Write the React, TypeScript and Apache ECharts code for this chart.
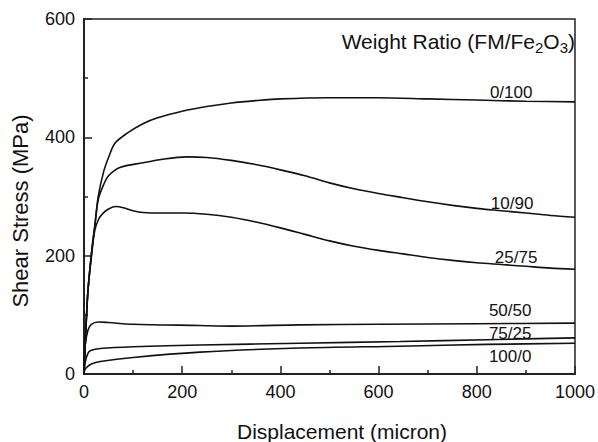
import React, { useEffect, useRef } from "react";
import * as echarts from "echarts";

const xTicks = [0, 200, 400, 600, 800, 1000];
const yTicks = [0, 200, 400, 600];

const seriesNames = ["0/100", "10/90", "25/75", "50/50", "75/25", "100/0"];

const s0_100: [number, number][] = [
  [0, 0], [3, 60], [8, 140], [16, 210], [22, 250], [29, 300], [40, 342], [50, 366], [63, 390],
  [88, 407], [120, 423], [150, 433], [200, 444], [250, 452], [300, 458], [350, 462], [400, 465],
  [500, 467], [600, 467], [700, 465], [800, 463], [900, 461], [1000, 460],
];
const s10_90: [number, number][] = [
  [0, 0], [3, 60], [8, 140], [16, 210], [22, 250], [29, 295], [40, 320], [50, 335], [73, 349],
  [120, 357], [160, 363], [209, 367], [250, 366], [300, 361], [350, 354], [400, 345], [450, 335],
  [500, 323], [550, 313], [600, 305], [650, 298], [700, 291], [750, 285], [800, 280], [850, 276],
  [900, 272], [950, 268], [1000, 265],
];
const s25_75: [number, number][] = [
  [0, 0], [3, 60], [8, 140], [16, 205], [22, 243], [30, 262], [39, 272], [50, 279], [65, 283],
  [80, 281], [100, 276], [120, 273], [160, 272], [200, 272], [250, 270], [300, 265], [350, 257],
  [400, 247], [450, 236], [500, 225], [550, 216], [600, 209], [650, 203], [700, 197], [750, 192],
  [800, 188], [850, 185], [900, 182], [950, 179], [1000, 177],
];
const s50_50: [number, number][] = [
  [0, 0], [2, 46], [8, 74], [15, 84], [29, 88], [50, 87], [100, 84], [236, 82], [300, 81],
  [440, 83], [600, 84], [800, 85], [1000, 86],
];
const s75_25: [number, number][] = [
  [0, 0], [2, 18], [8, 35], [15, 40], [33, 43], [100, 46], [236, 49], [440, 52], [644, 55],
  [820, 58], [1000, 61],
];
const s100_0: [number, number][] = [
  [0, 0], [2, 8], [8, 13], [15, 17], [33, 21], [100, 28], [236, 37], [440, 44], [644, 47],
  [820, 50], [1000, 52],
];

const seriesData = [s0_100, s10_90, s25_75, s50_50, s75_25, s100_0];
const labelX = [870, 872, 880, 868, 868, 868];
const labelY = [475, 289, 197, 108, 69, 29];

const FONT = "'Liberation Sans', Arial, Helvetica, sans-serif";

export default function App() {
  const ref = useRef<HTMLDivElement>(null);
  useEffect(() => {
    if (!ref.current) return;
    const chart = echarts.init(ref.current, null, { renderer: "svg" });
    chart.setOption({
      animation: false,
      backgroundColor: "#fff",
      textStyle: { fontFamily: FONT },
      title: {
        text: "Weight Ratio (FM/Fe{s|2}O{s|3})",
        right: 23,
        top: 28,
        padding: 0,
        textStyle: {
          fontFamily: FONT,
          fontSize: 21,
          fontWeight: "normal",
          color: "#111",
          rich: {
            s: { fontFamily: FONT, fontSize: 15, color: "#111", padding: [12, 0, 0, 0] },
          },
        },
      },
      grid: {
        left: 84,
        top: 19,
        right: 23,
        bottom: 68,
        show: true,
        borderColor: "#222",
        borderWidth: 1.5,
      },
      xAxis: {
        type: "value",
        min: 0,
        max: 1000,
        interval: 200,
        axisLine: { show: true, lineStyle: { color: "#222", width: 2 } },
        axisTick: { show: true, inside: true, length: 8, lineStyle: { color: "#222", width: 1.5 } },
        minorTick: { show: true, splitNumber: 2, length: 4, lineStyle: { color: "#222", width: 1.5 } },
        splitLine: { show: false },
        axisLabel: {
          margin: 9,
          fontSize: 18,
          color: "#111",
          fontFamily: FONT,
          formatter: (v: number) => (xTicks.includes(v) ? String(v) : ""),
        },
      },
      yAxis: {
        type: "value",
        min: 0,
        max: 600,
        interval: 200,
        axisLine: { show: true, lineStyle: { color: "#222", width: 2 } },
        axisTick: { show: true, inside: true, length: 8, lineStyle: { color: "#222", width: 1.5 } },
        minorTick: { show: true, splitNumber: 2, length: 4, lineStyle: { color: "#222", width: 1.5 } },
        splitLine: { show: false },
        axisLabel: {
          margin: 9,
          fontSize: 18,
          color: "#111",
          fontFamily: FONT,
          formatter: (v: number) => (yTicks.includes(v) ? String(v) : ""),
        },
      },
      graphic: [
        {
          type: "text",
          x: 342,
          y: 431,
          style: {
            text: "Displacement (micron)",
            fontSize: 21,
            fontFamily: FONT,
            fill: "#111",
            textAlign: "center",
            textVerticalAlign: "middle",
          },
        },
        {
          type: "text",
          x: 20,
          y: 211,
          rotation: Math.PI / 2,
          style: {
            text: "Shear Stress (MPa)",
            fontSize: 22,
            fontFamily: FONT,
            fill: "#111",
            textAlign: "center",
            textVerticalAlign: "middle",
          },
        },
      ],
      series: seriesData.map((d, i) => ({
        name: seriesNames[i],
        type: "line",
        data: d,
        showSymbol: false,
        smooth: 0.3,
        lineStyle: { color: "#111", width: 1.6 },
        z: 2 + i,
        markPoint: {
          symbol: "rect",
          symbolSize: 0,
          silent: true,
          data: [
            {
              coord: [labelX[i], labelY[i]],
              label: {
                show: true,
                formatter: seriesNames[i],
                position: "inside",
                fontSize: 17,
                fontFamily: FONT,
                color: "#111",
                backgroundColor: i === 4 ? "#fff" : "transparent",
                padding: i === 4 ? [0, 2, 0, 2] : 0,
              },
            },
          ],
        },
      })),
    });
    return () => chart.dispose();
  }, []);
  return <div ref={ref} style={{ width: 598, height: 442, position: "absolute", left: 0, top: 0 }} />;
}
